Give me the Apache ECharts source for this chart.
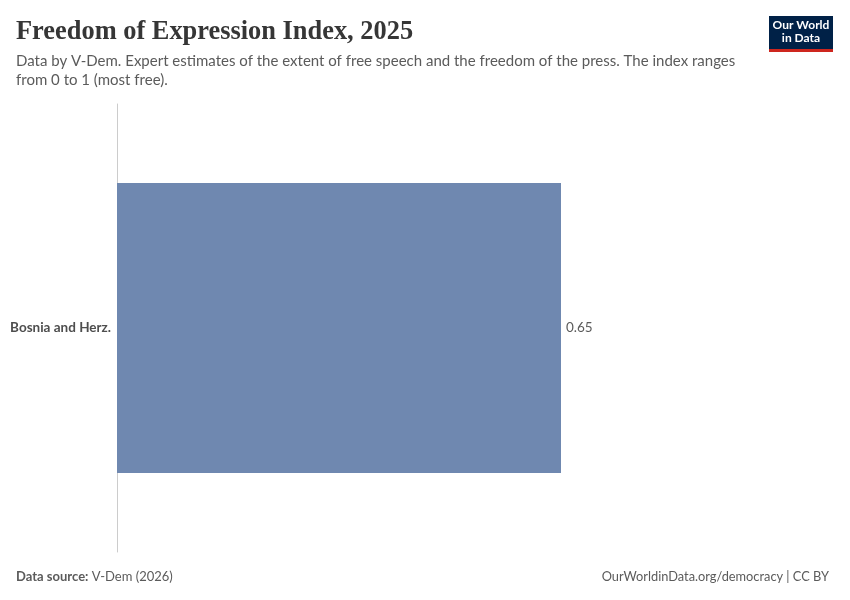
<!DOCTYPE html>
<html><head><meta charset="utf-8">
<script src="https://cdn.jsdelivr.net/npm/echarts@6/dist/echarts.min.js"></script>
<style>html,body{margin:0;padding:0;background:#fff}#c{width:850px;height:600px}</style>
</head><body><div id="c"></div>
<script>
const categories = ["Bosnia and Herz."];
const values = [0.65];

const chart = echarts.init(document.getElementById('c'), null, {renderer: 'canvas'});
chart.setOption({
  backgroundColor: '#ffffff',
  animation: false,
  title: [{
    text: 'Freedom of Expression Index, 2025',
    left: 11, top: 14,
    textStyle: {fontFamily: 'Liberation Serif', fontSize: 26.4, fontWeight: 'bold', color: '#363636'}
  }, {
    text: 'Data by V-Dem. Expert estimates of the extent of free speech and the freedom of the press. The index ranges\nfrom 0 to 1 (most free).',
    left: 11, top: 47,
    textStyle: {fontFamily: 'Lato', fontSize: 15, fontWeight: 'normal', color: '#5b5b5b', lineHeight: 19}
  }],
  grid: {left: 117, top: 104, width: 444, height: 448, containLabel: false},
  xAxis: {type: 'value', min: 0, max: 0.65, show: false},
  yAxis: {
    type: 'category', data: categories,
    axisLine: {show: true, lineStyle: {color: '#cccccc', width: 1}},
    axisTick: {show: false},
    axisLabel: {fontFamily: 'Lato', fontSize: 13.5, fontWeight: 'bold', color: '#4e4e4e', margin: 6}
  },
  series: [{
    type: 'bar', data: values, barWidth: 290,
    itemStyle: {color: '#6f88b0'},
    label: {show: true, position: 'right', distance: 5, formatter: p => p.value.toFixed(2),
      fontFamily: 'Lato', fontSize: 13.5, color: '#5b5b5b'}
  }],
  graphic: [
    {type: 'rect', shape: {x: 769, y: 16, width: 64, height: 33}, style: {fill: '#002147'}},
    {type: 'rect', shape: {x: 769, y: 49, width: 64, height: 3}, style: {fill: '#ce261e'}},
    {type: 'text', style: {x: 801, y: 32, text: 'Our World\nin Data', align: 'center', verticalAlign: 'middle',
      fontFamily: 'Lato', fontWeight: 'bold', fontSize: 12, lineHeight: 13, fill: '#ffffff'}},
    {type: 'text', style: {x: 16, y: 577, verticalAlign: 'middle',
      text: '{b|Data source:} V-Dem (2026)',
      rich: {b: {fontFamily: 'Lato', fontWeight: 'bold', fontSize: 13, fill: '#5b5b5b'}},
      fontFamily: 'Lato', fontSize: 13, fill: '#5b5b5b'}},
    {type: 'text', style: {x: 829, y: 577, align: 'right', verticalAlign: 'middle',
      text: 'OurWorldinData.org/democracy | CC BY',
      fontFamily: 'Lato', fontSize: 12.8, fill: '#5b5b5b'}}
  ]
});
</script></body></html>
